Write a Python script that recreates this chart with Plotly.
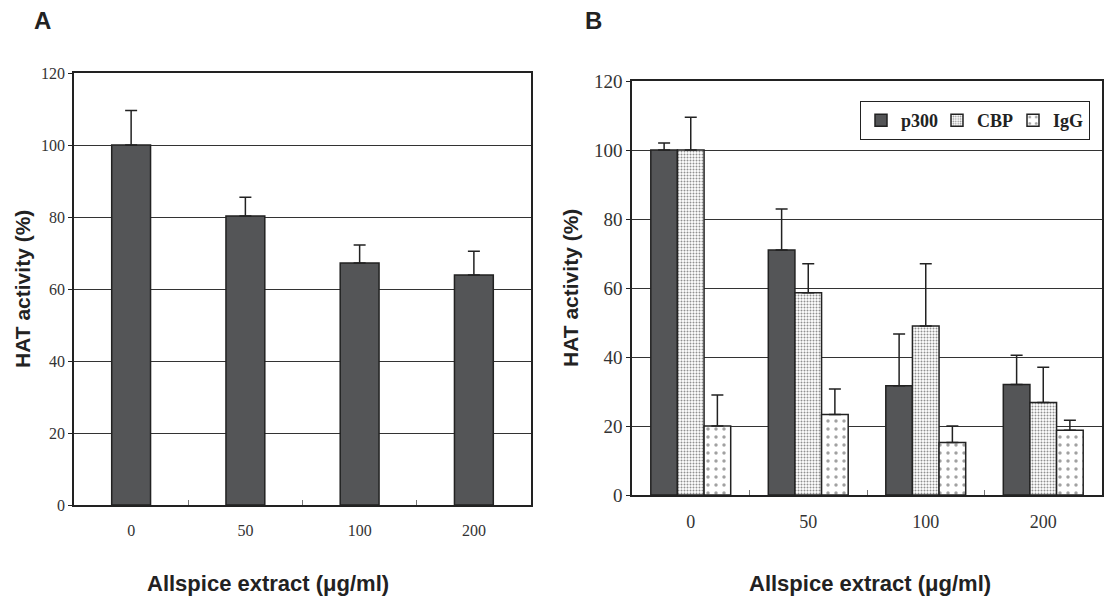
import plotly.graph_objects as go

categories = ["0", "50", "100", "200"]
y_ticks = [0, 20, 40, 60, 80, 100, 120]

# Panel A
a_values = [100.0, 80.3, 67.2, 63.9]
a_err = [9.6, 5.2, 5.0, 6.6]

# Panel B
p300 = [100.0, 71.0, 31.7, 32.0]
p300_err = [2.0, 11.9, 15.0, 8.5]
cbp = [100.0, 58.6, 49.0, 26.8]
cbp_err = [9.5, 8.4, 18.0, 10.2]
igg = [20.0, 23.3, 15.2, 18.8]
igg_err = [9.0, 7.4, 4.8, 2.9]

BAR = "#545557"
LINE = "#222222"
SERIF = "Liberation Serif, Times New Roman, serif"
SANS = "Liberation Sans, Arial, sans-serif"

fig = go.Figure()

fig.add_trace(go.Bar(
    x=categories, y=a_values, xaxis="x", yaxis="y", width=0.34,
    marker=dict(color=BAR, line=dict(color=LINE, width=1.5)),
    error_y=dict(type="data", symmetric=False, array=a_err, arrayminus=[0]*4,
                 color=LINE, thickness=1.5, width=6),
    showlegend=False,
))

fig.add_trace(go.Bar(
    x=categories, y=p300, xaxis="x2", yaxis="y2", name="p300",
    marker=dict(color=BAR, line=dict(color=LINE, width=1.5)),
    error_y=dict(type="data", symmetric=False, array=p300_err, arrayminus=[0]*4,
                 color=LINE, thickness=1.5, width=6),
))
fig.add_trace(go.Bar(
    x=categories, y=cbp, xaxis="x2", yaxis="y2", name="CBP",
    marker=dict(color="white", line=dict(color=LINE, width=1.5),
                pattern=dict(shape=".", fgcolor="#222222", bgcolor="white",
                             size=3, solidity=0.35)),
    error_y=dict(type="data", symmetric=False, array=cbp_err, arrayminus=[0]*4,
                 color=LINE, thickness=1.5, width=6),
))
fig.add_trace(go.Bar(
    x=categories, y=igg, xaxis="x2", yaxis="y2", name="IgG",
    marker=dict(color="white", line=dict(color=LINE, width=1.5),
                pattern=dict(shape=".", fgcolor="#444444", bgcolor="white",
                             size=8, solidity=0.15)),
    error_y=dict(type="data", symmetric=False, array=igg_err, arrayminus=[0]*4,
                 color=LINE, thickness=1.5, width=6),
))

W, H = 1104, 610
def px(x): return x / W
def py(y): return 1 - y / H

common_y = dict(range=[0, 120], tickvals=y_ticks, showgrid=True, gridcolor="#333333",
                gridwidth=1, showline=True, linecolor=LINE, linewidth=1.5, mirror=True,
                ticks="outside", ticklen=4, tickcolor=LINE, zeroline=False)
common_x = dict(type="category", showline=True, linecolor=LINE, linewidth=1.5, mirror=True,
                ticks="inside", tickson="boundaries", ticklen=5, tickcolor="#777777",
                showgrid=False, ticklabelstandoff=10)

fig.update_layout(
    width=W, height=H, margin=dict(l=0, r=0, t=0, b=0, autoexpand=False),
    paper_bgcolor="white", plot_bgcolor="white",
    barmode="group", bargap=0.32, bargroupgap=0,
    xaxis=dict(domain=[px(74), px(531)], anchor="y",
               tickfont=dict(family=SERIF, size=16, color="#333"), **common_x),
    yaxis=dict(domain=[py(505), py(73)], anchor="x",
               tickfont=dict(family=SERIF, size=16, color="#333"), **common_y),
    xaxis2=dict(domain=[px(632), px(1102)], anchor="y2",
                tickfont=dict(family=SERIF, size=18, color="#333"), **common_x),
    yaxis2=dict(domain=[py(495), py(81)], anchor="x2",
                tickfont=dict(family=SERIF, size=19, color="#333"), **common_y),
    legend=dict(x=px(860), y=py(101), xanchor="left", yanchor="top",
                orientation="h", bgcolor="white", bordercolor=LINE, borderwidth=1,
                font=dict(family=SERIF, size=18, color="#222", weight="bold"),
                itemwidth=30, entrywidth=31, entrywidthmode="pixels", tracegroupgap=0),
    showlegend=True,
)

ann = [
    dict(text="<b>A</b>", x=px(42), y=py(20), font=dict(family=SANS, size=24, color="#222")),
    dict(text="<b>B</b>", x=px(594), y=py(20), font=dict(family=SANS, size=24, color="#222")),
    dict(text="<b>HAT activity (%)</b>", x=px(22), y=py(289), textangle=-90,
         font=dict(family=SANS, size=21, color="#222")),
    dict(text="<b>HAT activity (%)</b>", x=px(570), y=py(288), textangle=-90,
         font=dict(family=SANS, size=21, color="#222")),
    dict(text="<b>Allspice extract (μg/ml)</b>", x=px(268), y=py(583),
         font=dict(family=SANS, size=22, color="#222")),
    dict(text="<b>Allspice extract (μg/ml)</b>", x=px(870), y=py(583),
         font=dict(family=SANS, size=22, color="#222")),
]
for a in ann:
    a.update(xref="paper", yref="paper", showarrow=False, xanchor="center", yanchor="middle")
fig.update_layout(annotations=ann)

fig.write_html("out.html", config={"displayModeBar": False},
               post_script="document.body.style.margin='0';document.body.style.overflow='hidden';")
